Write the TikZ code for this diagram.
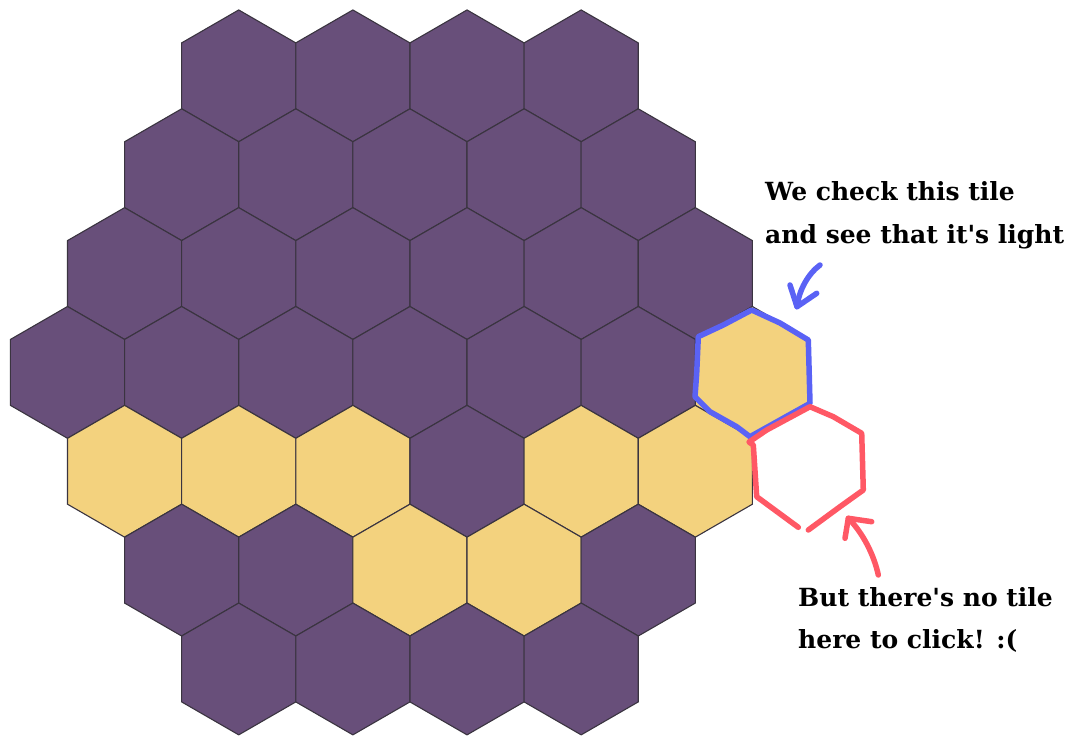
\documentclass[tikz,border=0pt]{standalone}
\usepackage{fontspec}
\setmainfont{DejaVu Serif}
\usetikzlibrary{shapes.geometric}
\definecolor{hexd}{HTML}{684F7A}
\definecolor{hexl}{HTML}{F3D27E}
\definecolor{hexedge}{HTML}{3A3440}
\definecolor{penblue}{HTML}{5A62F5}
\definecolor{penred}{HTML}{FF5865}

\begin{document}
\begin{tikzpicture}[x=1pt, y=-1pt,
  hex/.style={regular polygon, regular polygon sides=6, shape border rotate=30, minimum size=131.8pt, inner sep=0pt, outer sep=0pt, draw=hexedge, line width=1.1pt},
  note/.style={font=\bfseries\fontsize{25}{42.6}\selectfont, align=left, inner sep=0pt, anchor=north west},
  pen/.style={line width=5.5pt, line cap=round, line join=round}]
  \useasboundingbox (0,0) rectangle (1076,736);
  % the board, row by row (d = dark, l = light)
  \foreach \row/\tiles in {0/{d,d,d,d}, 1/{d,d,d,d,d}, 2/{d,d,d,d,d,d}, 3/{d,d,d,d,d,d,l}, 4/{l,l,l,d,l,l}, 5/{d,d,l,l,d}, 6/{d,d,d,d}} {
    \pgfmathsetmacro\off{abs(\row-3)/2}
    \foreach \t [count=\c from 0] in \tiles
      \node[hex, fill=hex\t] (h-\row-\c) at ({67.5+(\off+\c)*114.15}, {372.4+(\row-3)*98.85}) {};
  }
  % the checked tile and the missing one
  \draw[pen, penblue] (751.7,310) -- (780,323) -- (808.3,340) -- (810,403.3) -- (780,420) -- (750,436.7) -- (736.7,426.7) -- (710,411.7) -- (695,396.7) -- (696.7,373.3) -- (698.3,336.7) -- (723.3,325) -- cycle;
  \draw[pen, penred] (798.3,527.3) -- (756.7,496.7) -- (753.3,445) -- (749,442) -- (766.7,430) -- (810,406.7) -- (833.3,416.7) -- (861.7,433.3) -- (863.3,490) -- (840,506.7) -- (808.3,530);
  % notes
  \node[note] (chk) at (765,181.5) {We check this tile\\and see that it\textquotesingle s light};
  \node[note] (none) at (798,587) {But there\textquotesingle s no tile\\here to click! :(};
  % hand-drawn arrows
  \coordinate (bs) at (820,265);
  \coordinate (bt) at (797,306.7);
  \draw[pen, penblue] (bs) .. controls (808,274) and (799,290) .. (bt);
  \draw[pen, penblue] (790,285) -- (bt) -- (816.7,293.3);
  \coordinate (rs) at (878.3,575);
  \coordinate (rt) at (848.3,518.3);
  \draw[pen, penred] (rs) .. controls (874,555) and (863,533) .. (rt);
  \draw[pen, penred] (845,538.3) -- (rt) -- (871.7,521.7);
\end{tikzpicture}
\end{document}
